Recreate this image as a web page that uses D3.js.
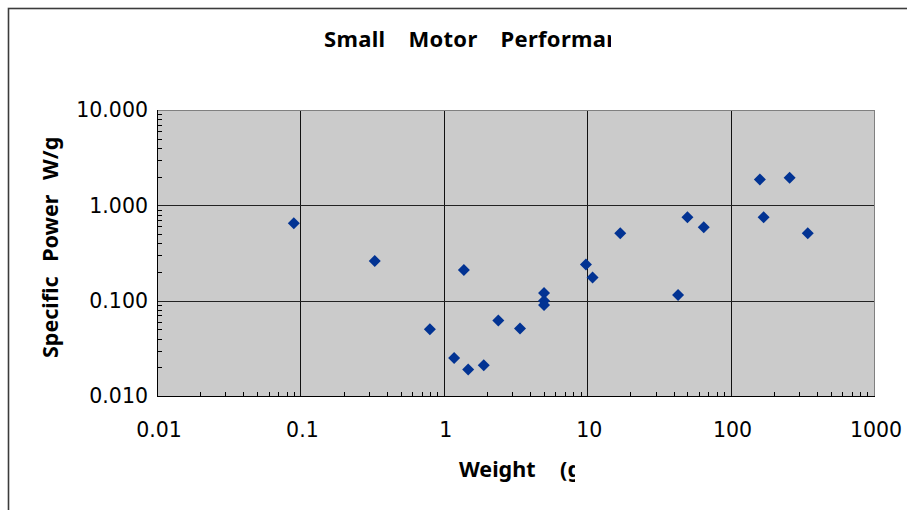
<!DOCTYPE html>
<html>
<head>
<meta charset="utf-8">
<script src="https://cdn.jsdelivr.net/npm/d3@7"></script>
<style>
  html, body { margin: 0; padding: 0; background: #fff; overflow: hidden; }
  svg { display: block; }
</style>
</head>
<body>
<svg id="chart" width="907" height="510"></svg>
<script>
// Motor weight (g) and specific power (W/g)
const weight = [0.09, 0.33, 1.38, 0.8, 1.18, 1.48, 1.9, 2.4, 3.4, 5, 5, 5, 9.8, 10.9, 17, 43, 50, 65, 160, 258, 170, 345];
const power  = [0.65, 0.26, 0.21, 0.05, 0.025, 0.019, 0.021, 0.062, 0.051, 0.12, 0.10, 0.09, 0.24, 0.175, 0.51, 0.115, 0.75, 0.59, 1.87, 1.95, 0.75, 0.51];

const xTicks = [0.01, 0.1, 1, 10, 100, 1000];
const xTickLabels = ["0.01", "0.1", "1", "10", "100", "1000"];
const yTicks = [0.01, 0.1, 1, 10];
const yTickLabels = ["0.010", "0.100", "1.000", "10.000"];

const titleText = "Small Motor Performance";
const xTitle = "Weight (g)";
const yTitle = "Specific Power W/g";

const svg = d3.select("#chart");
const plot = { left: 157, top: 110, right: 874, bottom: 396 };

const x = d3.scaleLog().domain([0.01, 1000]).range([plot.left, plot.right]);
const y = d3.scaleLog().domain([0.01, 10]).range([plot.bottom, plot.top]);

// outer chart frame (extends past the window edge)
svg.append("rect")
  .attr("x", 8.5).attr("y", 8.5).attr("width", 1000).attr("height", 700)
  .attr("fill", "none").attr("stroke", "#3c3c3c").attr("stroke-width", 1.6);

// clip regions for the title boxes
const defs = svg.append("defs");
defs.append("clipPath").attr("id", "clipTitle")
  .append("rect").attr("x", 0).attr("y", 0).attr("width", 611).attr("height", 80);
defs.append("clipPath").attr("id", "clipX")
  .append("rect").attr("x", 0).attr("y", 440).attr("width", 575).attr("height", 70);

// plot background
svg.append("rect")
  .attr("x", plot.left).attr("y", plot.top)
  .attr("width", plot.right - plot.left).attr("height", plot.bottom - plot.top)
  .attr("fill", "#cbcbcb");

// gridlines
const g = svg.append("g").attr("shape-rendering", "crispEdges");
g.selectAll(".vgrid").data(xTicks.slice(1, -1)).join("line")
  .attr("x1", d => Math.round(x(d)) + 0.5).attr("x2", d => Math.round(x(d)) + 0.5)
  .attr("y1", plot.top).attr("y2", plot.bottom)
  .attr("stroke", "#111").attr("stroke-width", 1);
g.selectAll(".hgrid").data(yTicks.slice(1, -1)).join("line")
  .attr("y1", d => Math.round(y(d)) + 0.5).attr("y2", d => Math.round(y(d)) + 0.5)
  .attr("x1", plot.left).attr("x2", plot.right)
  .attr("stroke", "#222").attr("stroke-width", 1);

// plot border: gray top/right
g.append("path")
  .attr("d", `M${plot.left},${plot.top + 0.5}H${plot.right + 0.5}V${plot.bottom}`)
  .attr("fill", "none").attr("stroke", "#808080").attr("stroke-width", 1.5);

// minor ticks (inside)
const isMajor = v => Math.abs(Math.log10(v) - Math.round(Math.log10(v))) < 1e-6;
const xMinor = x.ticks().filter(v => !isMajor(v));
const yMinor = y.ticks().filter(v => !isMajor(v));
g.selectAll(".xminor").data(xMinor).join("line")
  .attr("x1", d => Math.round(x(d)) + 0.5).attr("x2", d => Math.round(x(d)) + 0.5)
  .attr("y1", plot.bottom).attr("y2", plot.bottom - 4)
  .attr("stroke", "#000");
g.selectAll(".yminor").data(yMinor).join("line")
  .attr("y1", d => Math.round(y(d)) + 0.5).attr("y2", d => Math.round(y(d)) + 0.5)
  .attr("x1", plot.left).attr("x2", plot.left + 5)
  .attr("stroke", "#000");

// axis lines (left, bottom)
g.append("path")
  .attr("d", `M${plot.left + 0.5},${plot.top}V${plot.bottom + 0.5}H${plot.right + 1}`)
  .attr("fill", "none").attr("stroke", "#000").attr("stroke-width", 1.5);

// tick labels
const tickFont = "'DejaVu Sans', sans-serif";
svg.append("g").selectAll("text").data(yTicks).join("text")
  .attr("x", plot.left - 9).attr("y", d => y(d))
  .attr("dy", "0.36em").attr("text-anchor", "end")
  .attr("font-family", tickFont).attr("font-size", 20.5).attr("fill", "#000")
  .text((d, i) => yTickLabels[i]);
svg.append("g").selectAll("text").data(xTicks).join("text")
  .attr("x", d => x(d) + 2).attr("y", 437)
  .attr("text-anchor", "middle")
  .attr("font-family", tickFont).attr("font-size", 20.5).attr("fill", "#000")
  .text((d, i) => xTickLabels[i]);

// markers
const diamond = d3.symbol().type(d3.symbolSquare).size(72);
svg.append("g").selectAll("path").data(weight.map((w, i) => [w, power[i]])).join("path")
  .attr("d", diamond)
  .attr("transform", d => `translate(${x(d[0])},${y(d[1])}) rotate(45)`)
  .attr("fill", "#023393");

// titles
const labelFont = "'Noto Sans', sans-serif";
svg.append("text")
  .attr("clip-path", "url(#clipTitle)")
  .attr("x", 324).attr("y", 47)
  .attr("font-family", labelFont).attr("font-weight", "bold").attr("font-size", 22)
  .attr("letter-spacing", 0.3)
  .attr("word-spacing", 17).attr("fill", "#000")
  .text(titleText);

svg.append("text")
  .attr("clip-path", "url(#clipX)")
  .attr("x", 459).attr("y", 477)
  .attr("font-family", labelFont).attr("font-weight", "bold").attr("font-size", 21.5)
  .attr("word-spacing", 19).attr("fill", "#000")
  .text(xTitle);

svg.append("text")
  .attr("transform", "translate(58,358) rotate(-90)")
  .attr("x", 0).attr("y", 0)
  .attr("font-family", labelFont).attr("font-weight", "bold").attr("font-size", 21.5)
  .attr("word-spacing", 9).attr("fill", "#000")
  .text(yTitle);
</script>
</body>
</html>
